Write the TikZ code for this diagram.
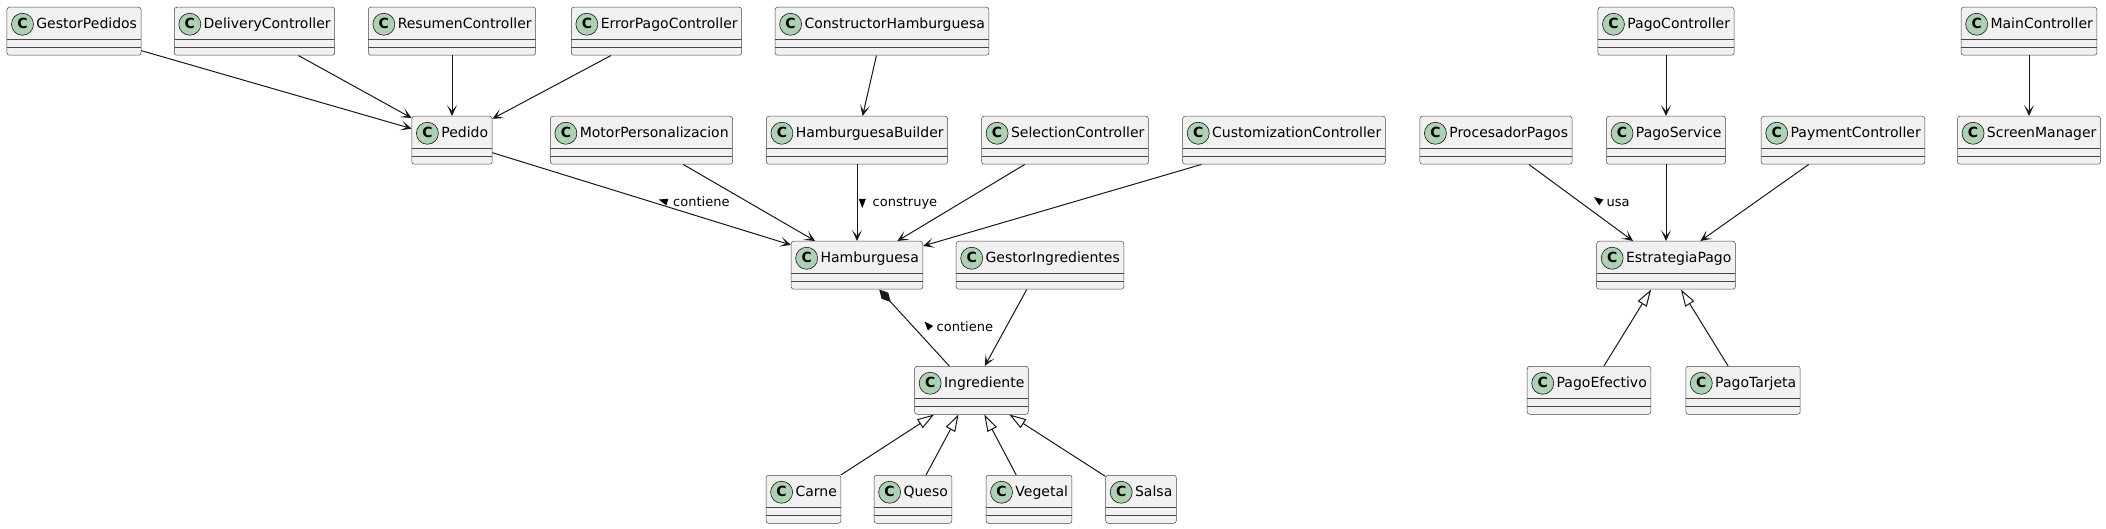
\documentclass[tikz,border=0pt]{standalone}
\usepackage{fontspec}
\setmainfont{DejaVu Sans}
\usetikzlibrary{positioning,arrows.meta}

\definecolor{boxfill}{HTML}{F1F1F1}
\definecolor{boxline}{HTML}{181818}
\definecolor{spot}{HTML}{ADD1B2}

\begin{document}
\begin{tikzpicture}[x=1pt,y=-1pt,
      cls/.style={rectangle,rounded corners=2.5pt,draw=boxline!80,line width=0.5pt,fill=boxfill,
        anchor=north,inner xsep=4pt,inner ysep=0pt,text height=21pt,text depth=27pt,
        font=\fontsize{14pt}{16pt}\selectfont,
        execute at begin node={\makebox[23pt]{\bfseries C}\hspace{2.4pt}},
        path picture={
          \draw[boxline!80,line width=0.5pt] ([yshift=-32pt]path picture bounding box.north west) -- ([yshift=-32pt]path picture bounding box.north east);
          \draw[boxline!80,line width=0.5pt] ([yshift=-40pt]path picture bounding box.north west) -- ([yshift=-40pt]path picture bounding box.north east);
          \draw[boxline,line width=0.6pt,fill=spot] ([xshift=15.5pt,yshift=-17pt]path picture bounding box.north west) circle (11pt);
        }},
      arr/.style={draw=boxline,line width=1pt,-{Stealth[length=11pt,width=10pt,inset=6pt]}},
      ext/.style={draw=boxline,line width=1pt,-{Triangle[length=17pt,width=10.5pt,fill=white]}},
      comp/.style={draw=boxline,line width=1pt,{Diamond[length=17pt,width=9pt]}-},
      lbl/.style={anchor=base west,inner sep=0pt,font=\fontsize{13pt}{15pt}\selectfont},
      dirtri/.style={fill=black}
      ]
      \fill[white] (0,0) rectangle (2106,529);
      \useasboundingbox (0,0) rectangle (2106,529);
      \node (gestorped)   [cls] at (74,7)     {GestorPedidos};
      \node (delivery)    [cls] at (254.5,7)  {DeliveryController};
      \node (resumen)     [cls] at (452,7)    {ResumenController};
      \node (errorpago)   [cls] at (656.5,7)  {ErrorPagoController};
      \node (constructor) [cls] at (882,7)    {ConstructorHamburguesa};
      \node (pagoctrl)    [cls] at (1666,7)   {PagoController};
      \node (mainctrl)    [cls] at (2029,7)   {MainController};
      \node (pedido)      [cls] at (452,116)  {Pedido};
      \node (motor)       [cls] at (641.5,116) {MotorPersonalizacion};
      \node (builder)     [cls] at (857,116)  {HamburguesaBuilder};
      \node (selection)   [cls] at (1065,116) {SelectionController};
      \node (custom)      [cls] at (1284,116) {CustomizationController};
      \node (procesador)  [cls] at (1496,116) {ProcesadorPagos};
      \node (pagoserv)    [cls] at (1666,116) {PagoService};
      \node (payment)     [cls] at (1843,116) {PaymentController};
      \node (screen)      [cls] at (2029,116) {ScreenManager};
      \node (hamb)        [cls] at (857,241)  {Hamburguesa};
      \node (gestoring)   [cls] at (1040,241) {GestorIngredientes};
      \node (estrategia)  [cls] at (1666,241) {EstrategiaPago};
      \node (ingr)        [cls] at (971.5,366) {Ingrediente};
      \node (efectivo)    [cls] at (1589,366) {PagoEfectivo};
      \node (tarjeta)     [cls] at (1743,366) {PagoTarjeta};
      \node (carne)       [cls] at (803.5,475) {Carne};
      \node (queso)       [cls] at (913,475)  {Queso};
      \node (vegetal)     [cls] at (1029,475) {Vegetal};
      \node (salsa)       [cls] at (1141,475) {Salsa};
      \draw[arr] (gestorped) -- (pedido) ;
      \draw[arr] (delivery) -- (pedido) ;
      \draw[arr] (resumen) -- (pedido) ;
      \draw[arr] (errorpago) -- (pedido) ;
      \draw[arr] (pedido) -- (hamb) ;
      \draw[arr] (motor) -- (hamb) ;
      \draw[arr] (constructor) -- (builder) ;
      \draw[arr] (builder) -- (hamb) ;
      \draw[arr] (selection) -- (hamb) ;
      \draw[arr] (custom) -- (hamb) ;
      \draw[comp] (hamb) -- (ingr) ;
      \draw[arr] (gestoring) -- (ingr) ;
      \draw[ext] (carne) -- (ingr) ;
      \draw[ext] (queso) -- (ingr) ;
      \draw[ext] (vegetal) -- (ingr) ;
      \draw[ext] (salsa) -- (ingr) ;
      \draw[arr] (pagoctrl) -- (pagoserv) ;
      \draw[arr] (mainctrl) -- (screen) ;
      \draw[arr] (procesador) -- (estrategia) ;
      \draw[arr] (pagoserv) -- (estrategia) ;
      \draw[arr] (payment) -- (estrategia) ;
      \draw[ext] (efectivo) -- (estrategia) ;
      \draw[ext] (tarjeta) -- (estrategia) ;
      \fill[dirtri] (658.7,199.5) -- (668.4,198.8) -- (666.3,205.5) -- cycle;
      \node (lblped)   [lbl] at (673,206.5)   {contiene};
      \fill[dirtri] (862.3,208) -- (858.8,199) -- (865.8,199) -- cycle;
      \node (lblbuild) [lbl] at (872.5,206.5) {construye};
      \fill[dirtri] (924.5,321.5) -- (933.1,325.9) -- (927.9,330.5) -- cycle;
      \node (lblingr)  [lbl] at (936.5,331.5) {contiene};
      \fill[dirtri] (1594,197.1) -- (1603.3,199.5) -- (1599.2,205.2) -- cycle;
      \node (lblusa)   [lbl] at (1606.5,206.5) {usa};
    \end{tikzpicture}
\end{document}
